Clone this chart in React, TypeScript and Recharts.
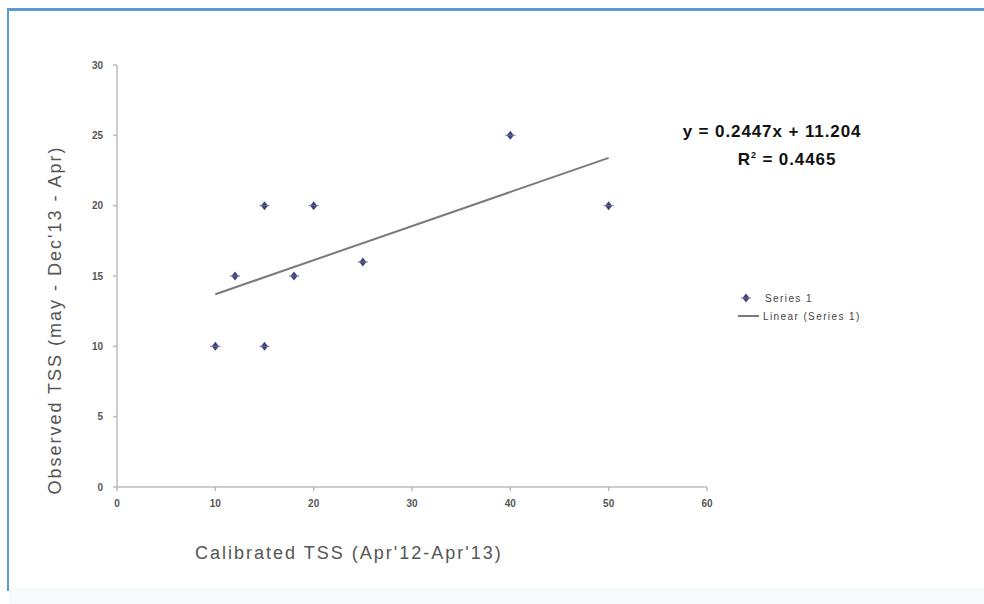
import { Scatter, ScatterChart, XAxis, YAxis } from "recharts"

const calibratedTss = [10, 15, 12, 18, 15, 20, 25, 40, 50]
const observedTss = [10, 10, 15, 15, 20, 20, 16, 25, 20]
const trendX = [10, 50]
const trendY = [13.7, 23.4]
const xTicks = [0, 10, 20, 30, 40, 50, 60]
const yTicks = [0, 5, 10, 15, 20, 25, 30]

const points = calibratedTss.map((x, i) => ({ x, y: observedTss[i] }))
const trend = trendX.map((x, i) => ({ x, y: trendY[i] }))

const Star = (props: any) => {
    const { cx, cy } = props
    return (
        <g>
            <path d={`M${cx} ${cy - 4.5} L${cx + 3.5} ${cy} L${cx} ${cy + 4.5} L${cx - 3.5} ${cy} Z`} fill="#3d4378" />
            <path d={`M${cx - 5} ${cy} L${cx + 5} ${cy}`} stroke="#6a6f9a" strokeWidth={1} />
        </g>
    )
}

const App = () => {
    const font = "'Liberation Sans', Arial, sans-serif"
    const tickStyle = { fontSize: 10, fill: "#555", fontWeight: 700 }
    return (
        <div style={{ position: "absolute", left: 0, top: 0, width: 984, height: 604, background: "#fff", overflow: "hidden", fontFamily: font }}>
            <div style={{ position: "absolute", left: 7, top: 8, width: 1000, height: 580, borderTop: "3px solid #5b9bd5", borderLeft: "2px solid #5b9bd5" }} />
            <div style={{ position: "absolute", left: 9, top: 588, width: 1000, height: 20, background: "#f6fafc" }} />

            <div style={{ position: "absolute", left: 0, top: 0 }}>
                <ScatterChart width={984} height={604} margin={{ top: 65, right: 277, bottom: 87, left: 57 }}>
                    <XAxis
                        type="number"
                        dataKey="x"
                        domain={[0, 60]}
                        ticks={xTicks}
                        height={30}
                        stroke="#bdbdbd"
                        strokeWidth={1.5}
                        tickSize={4}
                        tickMargin={9}
                        tick={tickStyle}
                    />
                    <YAxis
                        type="number"
                        dataKey="y"
                        domain={[0, 30]}
                        ticks={yTicks}
                        width={60}
                        stroke="#bdbdbd"
                        strokeWidth={1.5}
                        tickSize={4}
                        tickMargin={10}
                        tick={tickStyle}
                    />
                    <Scatter data={trend} line={{ stroke: "#7a7a7a", strokeWidth: 2 }} shape={() => null} isAnimationActive={false} />
                    <Scatter data={points} shape={Star} isAnimationActive={false} />
                </ScatterChart>
            </div>

            <div style={{ position: "absolute", left: 662, top: 122, width: 220, textAlign: "center", fontSize: 17, fontWeight: 700, color: "#111", letterSpacing: 0.9, whiteSpace: "nowrap" }}>
                y = 0.2447x + 11.204
            </div>
            <div style={{ position: "absolute", left: 677, top: 150, width: 220, textAlign: "center", fontSize: 17, fontWeight: 700, color: "#111", letterSpacing: 0.9, whiteSpace: "nowrap" }}>
                R<sup style={{ fontSize: 9 }}>2</sup> = 0.4465
            </div>

            <svg style={{ position: "absolute", left: 735, top: 290 }} width={150} height={35}>
                <Star cx={11} cy={8} />
                <text x={30} y={12} fontSize={10} fill="#444" fontFamily={font} letterSpacing={1.4}>Series 1</text>
                <line x1={3} y1={26} x2={24} y2={26} stroke="#7a7a7a" strokeWidth={2} />
                <text x={28} y={30} fontSize={10} fill="#444" fontFamily={font} letterSpacing={1.4}>Linear (Series 1)</text>
            </svg>

            <div style={{ position: "absolute", left: 195, top: 543, fontSize: 18, color: "#555", whiteSpace: "nowrap", letterSpacing: 2 }}>
                Calibrated TSS (Apr'12-Apr'13)
            </div>
            <div style={{ position: "absolute", left: 55, top: 320, transform: "translate(-50%, -50%) rotate(-90deg)", fontSize: 18, color: "#555", whiteSpace: "nowrap", letterSpacing: 2 }}>
                Observed TSS (may - Dec'13 - Apr)
            </div>
        </div>
    )
}

export default App
